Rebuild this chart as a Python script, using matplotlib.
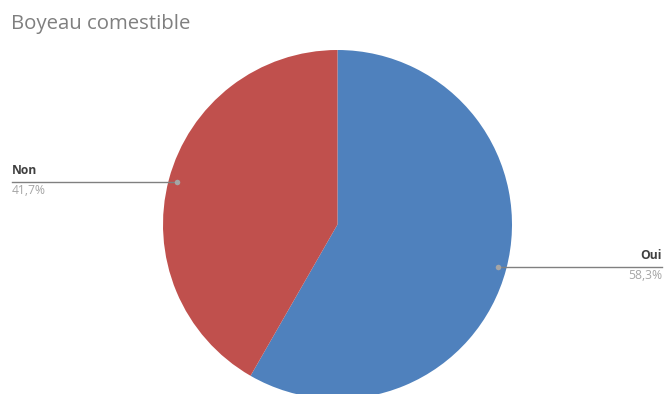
import numpy as np
import matplotlib.pyplot as plt

# Boyeau comestible : répartition des réponses
labels = ['Oui', 'Non']
values = [58.3, 41.7]
pct_text = ['58,3%', '41,7%']
colors = ['#4F81BD', '#C0504D']

W, H = 664, 394
fig = plt.figure(figsize=(W / 100, H / 100), dpi=100)
ax = fig.add_axes([0, 0, 1, 1])

cx, cy, R = 337.5, H - 224.5, 174.5
wedges, _ = ax.pie(values, colors=colors, startangle=90, counterclock=False,
                   center=(cx, cy), radius=R, wedgeprops=dict(linewidth=0))
ax.set_xlim(0, W)
ax.set_ylim(0, H)
ax.set_aspect('equal')
ax.axis('off')

fig.text(11 / W, 1 - 24 / H, 'Boyeau comestible', fontsize=14.7, color='#7f7f7f',
         family='Open Sans', va='center', ha='left')

# leader lines out to the figure edges
for w, lab, pct in zip(wedges, labels, pct_text):
    mid = np.deg2rad((w.theta1 + w.theta2) / 2)
    px = cx + 0.95 * R * np.cos(mid)
    py = cy + 0.95 * R * np.sin(mid)
    if px > cx:
        x_end, ha = W - 2, 'right'
    else:
        x_end, ha = 12, 'left'
    ax.plot([px, x_end], [py, py], color='#808080', lw=1.0, zorder=3)
    ax.plot(px, py, 'o', color='#a5a5a5', ms=4, mec='none', zorder=4)
    ax.text(x_end, py + 5, lab, ha=ha, va='bottom', fontsize=8.7, fontweight='bold',
            color='#404040', family='Open Sans')
    ax.text(x_end, py - 2, pct, ha=ha, va='top', fontsize=8.7, color='#a6a6a6',
            family='Open Sans')

fig.savefig('out.png', dpi=100)
